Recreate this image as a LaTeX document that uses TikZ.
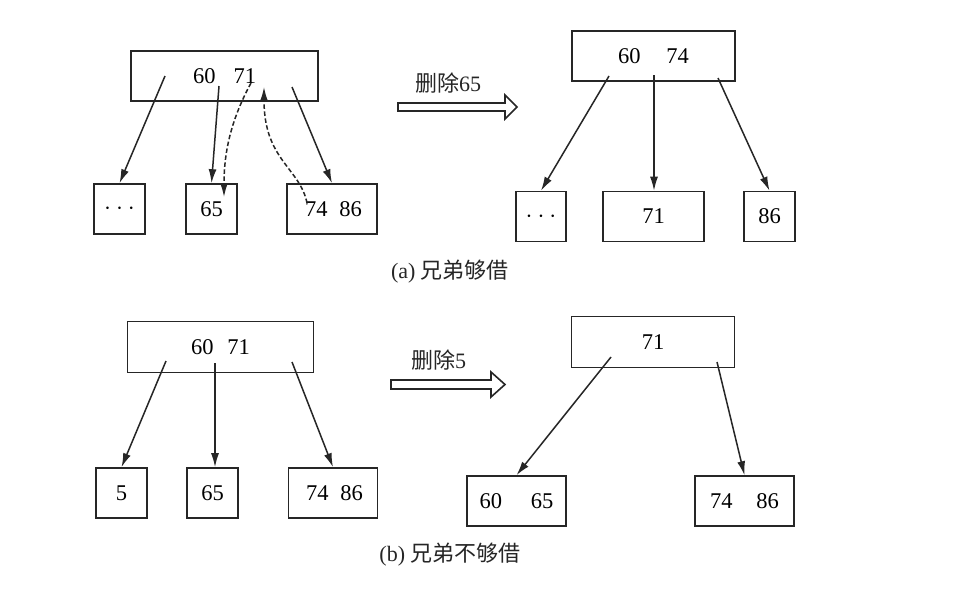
\documentclass[tikz,border=0pt]{standalone}
\usepackage{fontspec}
\setmainfont{Liberation Serif}
\newfontfamily\cjk{Noto Sans CJK SC}
\usetikzlibrary{arrows.meta}
\newcommand{\threedots}{{\fontsize{28}{28}\selectfont$\cdot$\hspace{5pt}$\cdot$\hspace{5pt}$\cdot$}}
\begin{document}
\begin{tikzpicture}[x=1pt,y=-1pt,
  box/.style={draw=black!85, line width=1.6pt, rectangle, inner sep=0pt, font=\fontsize{22.5}{22.5}\selectfont},
  link/.style={draw=black!85, line width=1.5pt, -{Latex[length=14pt,width=8pt]}},
  dlink/.style={link, dash pattern=on 4.5pt off 2.5pt},
  fat/.style={draw=black!85, line width=1.6pt, fill=white},
  lab/.style={font=\fontsize{22}{22}\selectfont, inner sep=0pt, text=black!85}
]
\useasboundingbox[fill=white] (0,0) rectangle (968,600);

% ---------- (a) left ----------
\node[box, minimum width=187pt, minimum height=50pt] (A) at (224.5,76) {60\hspace{18pt}71};
\node[box, minimum width=51pt, minimum height=50pt] (A1) at (119.5,209) {\threedots};
\node[box, minimum width=51pt, minimum height=50pt] (A2) at (211.5,209) {65};
\node[box, minimum width=90pt, minimum height=50pt] (A3) at (332,209) {\hspace{3pt}74\hspace{12pt}86};

\coordinate (a1s) at (165,76);
\coordinate (a2s) at (219,86);
\coordinate (a3s) at (292,87);
\draw[link] (a1s) -- (A1.north);
\draw[link] (a2s) -- (A2.north);
\draw[link] (a3s) -- (A3.north);

\coordinate (da1) at (251,83);
\coordinate (da1e) at (224,197);
\coordinate (da2) at (307,203);
\coordinate (da2e) at (264,87);
\draw[dlink] (da1) .. controls (232,118) and (224,150) .. (da1e);
\draw[dlink] (da2) .. controls (300,168) and (264,160) .. (da2e);

% arrow (a)
\draw[fat] (398,103) -- (505,103) -- (505,95) -- (517,107) -- (505,119) -- (505,111) -- (398,111) -- cycle;
\node[lab, anchor=west] (la) at (415,83) {{\cjk 删除}65};

% ---------- (a) right ----------
\node[box, minimum width=163pt, minimum height=50pt] (B) at (653.5,56) {60\hspace{26pt}74};
\node[box, minimum width=50pt, minimum height=50pt] (B1) at (541,216.5) {\threedots};
\node[box, minimum width=101pt, minimum height=50pt] (B2) at (653.5,216.5) {71};
\node[box, minimum width=51pt, minimum height=50pt] (B3) at (769.5,216.5) {86};

\coordinate (b1s) at (609,76);
\coordinate (b2s) at (654,75);
\coordinate (b3s) at (718,78);
\draw[link] (b1s) -- (B1.north);
\draw[link] (b2s) -- (b2s |- B2.north);
\draw[link] (b3s) -- (B3.north);

\node[lab] (ca) at (450,272) {(a) {\cjk 兄弟够借}};

% ---------- (b) left ----------
\node[box, minimum width=186pt, minimum height=51pt] (C) at (220.5,347) {60\hspace{14pt}71};
\node[box, minimum width=51pt, minimum height=50pt] (C1) at (121.5,493) {5};
\node[box, minimum width=51pt, minimum height=50pt] (C2) at (212.5,493) {65};
\node[box, minimum width=89pt, minimum height=50pt] (C3) at (333,493) {\hspace{3pt}74\hspace{12pt}86};

\coordinate (c1s) at (166,361);
\coordinate (c2s) at (215,363);
\coordinate (c3s) at (292,362);
\draw[link] (c1s) -- (C1.north);
\draw[link] (c2s) -- (c2s |- C2.north);
\draw[link] (c3s) -- (C3.north);

% arrow (b)
\draw[fat] (391,380) -- (491,380) -- (491,372) -- (505,384.5) -- (491,397) -- (491,389) -- (391,389) -- cycle;
\node[lab, anchor=west] (lb) at (411,360) {{\cjk 删除}5};

% ---------- (b) right ----------
\node[box, minimum width=163pt, minimum height=51pt] (D) at (653,342) {71};
\node[box, minimum width=99pt, minimum height=50pt] (D1) at (516.5,501) {60\hspace{29pt}65};
\node[box, minimum width=99pt, minimum height=50pt] (D2) at (744.5,501) {74\hspace{24pt}86};

\coordinate (d1s) at (611,357);
\coordinate (d2s) at (717,362);
\draw[link] (d1s) -- (D1.north);
\draw[link] (d2s) -- (D2.north);

\node[lab] (cb) at (450,555) {(b) {\cjk 兄弟不够借}};
\end{tikzpicture}
\end{document}
